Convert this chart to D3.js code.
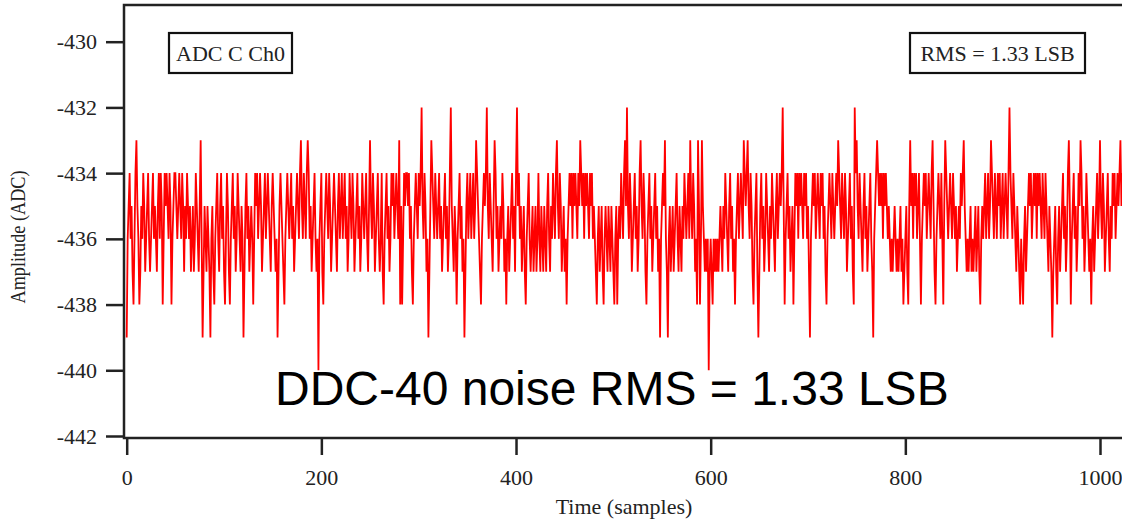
<!DOCTYPE html>
<html>
<head>
<meta charset="utf-8">
<script src="https://cdn.jsdelivr.net/npm/d3@7"></script>
<style>
  body { margin: 0; background: #fff; }
  svg { display: block; }
</style>
</head>
<body>
<script>
const xTicks = [0, 200, 400, 600, 800, 1000]
const yTicks = [-442, -440, -438, -436, -434, -432, -430]

// ADC codes, one digit per sample: amplitude = digit - 440
const ampRows = [
  '14564532467542354653456434564543',
  '56465246565465245665456546535465',
  '45345346543574135435431453245643',
  '56453246532456453465435413564534',
  '54246564565345645654356543413565',
  '43245654564534565467546546764534',
  '56434045632456546534565435645645',
  '64534654653456453465456435754653',
  '45643463245645346564565472524656',
  '65645324565465685465341357654654',
  '56453456453468543542456453413564',
  '56456457654324565685465435764534',
  '54653424534564536856453453245643',
  '45345346435435435643546546754653',
  '45342456564656546576564656546564',
  '54324534532454354354324524546546',
  '75854653456453467546532456453456',
  '45341456574314534534564354354654',
  '56475465342752475434340343243434',
  '34543546543564534245645654765675',
  '46532456313564534654354654356456',
  '56852456453452465646565465645314',
  '56564565465645324565465456576546',
  '54653456453286754654356453456431',
  '45676565646565454343454343453423',
  '45325756465645642456564565467532',
  '45654642576545654654534546567543',
  '43453434534532454564564576546546',
  '56456456546865465435432432453456',
  '56456564656546546543543134532453',
  '45645346752456453465764534654342',
  '45345645754653456435465645656756'
]

const channelLabel = 'ADC C Ch0'
const rmsLabel = 'RMS = 1.33 LSB'
const noteText = 'DDC-40 noise RMS = 1.33 LSB'

const samples = ampRows.join('').split('').map((d, i) => ({ t: i, v: +d - 440 }))

const width = 1122
const height = 522
const serif = '"Liberation Serif", "Times New Roman", serif'
const ink = '#222'

const x = d3.scaleLinear().domain([0, 1000]).range([126.7, 1100])
const y = d3.scaleLinear().domain([-442, -430]).range([436, 41.7])

const svg = d3.select('body').append('svg')
  .attr('width', width)
  .attr('height', height)

svg.append('rect')
  .attr('width', width)
  .attr('height', height)
  .attr('fill', '#fff')

// plot frame (right side runs off the picture)
svg.append('rect')
  .attr('x', 124)
  .attr('y', 5)
  .attr('width', 1100)
  .attr('height', 433)
  .attr('fill', 'none')
  .attr('stroke', ink)
  .attr('stroke-width', 2.5)

const line = d3.line()
  .x(d => x(d.t))
  .y(d => y(d.v))

svg.append('path')
  .datum(samples)
  .attr('d', line)
  .attr('fill', 'none')
  .attr('stroke', '#ff0000')
  .attr('stroke-width', 1.8)
  .attr('stroke-linejoin', 'miter')

const yAxis = svg.append('g')
  .attr('transform', 'translate(124,0)')
  .call(d3.axisLeft(y).tickValues(yTicks).tickFormat(d => String(d))
    .tickSize(18).tickSizeOuter(0).tickPadding(9))

const xAxis = svg.append('g')
  .attr('transform', 'translate(0,438)')
  .call(d3.axisBottom(x).tickValues(xTicks).tickFormat(d => String(d))
    .tickSize(17).tickSizeOuter(0).tickPadding(14))

;[yAxis, xAxis].forEach(g => {
  g.select('.domain').remove()
  g.selectAll('line').attr('stroke', ink).attr('stroke-width', 2.5)
  g.selectAll('text')
    .attr('fill', ink)
    .style('font-family', serif)
    .style('font-size', '22px')
})

svg.append('text')
  .attr('x', 624)
  .attr('y', 514)
  .attr('text-anchor', 'middle')
  .attr('fill', ink)
  .style('font-family', serif)
  .style('font-size', '22px')
  .text('Time (samples)')

svg.append('text')
  .attr('transform', 'translate(25,237) rotate(-90)')
  .attr('text-anchor', 'middle')
  .attr('textLength', 133)
  .attr('lengthAdjust', 'spacingAndGlyphs')
  .attr('fill', ink)
  .style('font-family', serif)
  .style('font-size', '20px')
  .text('Amplitude (ADC)')

const boxes = [
  { x: 169, w: 123, label: channelLabel },
  { x: 910, w: 175, label: rmsLabel }
]

const box = svg.selectAll('.tag')
  .data(boxes)
  .enter().append('g')
    .attr('class', 'tag')
    .attr('transform', d => 'translate(' + d.x + ',33)')

box.append('rect')
  .attr('width', d => d.w)
  .attr('height', 40)
  .attr('fill', '#fff')
  .attr('stroke', '#111')
  .attr('stroke-width', 2.2)

box.append('text')
  .attr('x', d => d.w / 2)
  .attr('y', 28)
  .attr('text-anchor', 'middle')
  .attr('fill', ink)
  .style('font-family', serif)
  .style('font-size', '22px')
  .text(d => d.label)

svg.append('text')
  .attr('x', 275)
  .attr('y', 405)
  .attr('fill', '#000')
  .style('font-family', '"Liberation Sans", Arial, sans-serif')
  .style('font-size', '48px')
  .text(noteText)
</script>
</body>
</html>
